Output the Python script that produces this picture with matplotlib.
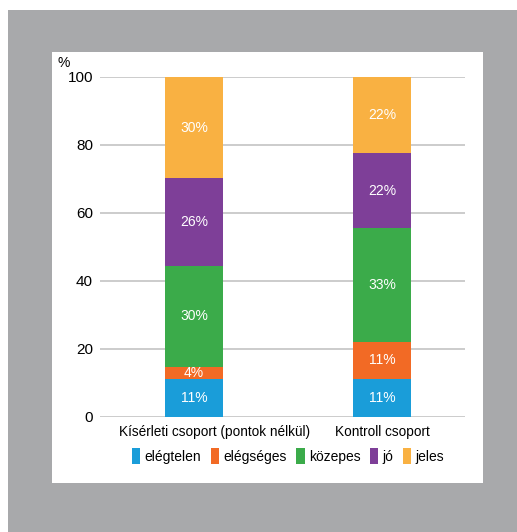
import numpy as np
import matplotlib.pyplot as plt
from matplotlib.patches import Rectangle
from matplotlib.transforms import ScaledTranslation

plt.rcParams['font.family'] = ['Liberation Sans', 'DejaVu Sans']

groups = ['Kísérleti csoport (pontok nélkül)', 'Kontroll csoport']
grades = ['elégtelen', 'elégséges', 'közepes', 'jó', 'jeles']
kiserleti = [11.1, 3.7, 29.6, 25.9, 29.6]
kontroll = [11.1, 11.1, 33.3, 22.2, 22.2]
colors = ['#1a9dd9', '#f26a25', '#3bab4a', '#7e3f98', '#f9b142']
yticks = [0, 20, 40, 60, 80, 100]

W, H = 517, 532
fig = plt.figure(figsize=(W / 100, H / 100), dpi=100)
fig.patch.set_facecolor('white')
# grey frame and white panel
fig.patches.append(Rectangle((8 / W, 0), 1 - 8 / W, 1 - 10 / H, transform=fig.transFigure,
                             facecolor='#a8a9ab', edgecolor='none', zorder=-2))
fig.patches.append(Rectangle((52 / W, 1 - 483 / H), 431 / W, 431 / H, transform=fig.transFigure,
                             facecolor='white', edgecolor='none', zorder=-1))

ax = fig.add_axes([100 / W, 1 - 417 / H, 365 / W, 340 / H])
ax.set_zorder(2)
ax.set_facecolor('none')

data = np.array([kiserleti, kontroll])
x = np.arange(len(groups))
bottom = np.zeros(len(groups))
handles = []
for i, g in enumerate(grades):
    vals = data[:, i]
    b = ax.bar(x, vals, width=0.31, bottom=bottom, color=colors[i], label=g, zorder=3)
    handles.append(b)
    for xi, v, bt in zip(x, vals, bottom):
        ax.text(xi, bt + v / 2, f'{v:.0f}%', ha='center', va='center', color='white',
                fontsize=10, zorder=4)
    bottom += vals

ax.set_xlim(-0.5, 1.44)
ax.set_ylim(0, 100)
ax.set_yticks(yticks)
ax.yaxis.grid(True, color='#c4c4c4', linewidth=1.2, zorder=0)
ax.tick_params(axis='y', length=0, pad=5, labelsize=11)
ax.tick_params(axis='x', length=0, pad=6, labelsize=9.8)
ax.set_xticks(x)
ax.set_xticklabels(groups)
# first category label sits a bit to the right of its bar in the original
lab0 = ax.get_xticklabels()[0]
lab0.set_transform(lab0.get_transform() + ScaledTranslation(0.2, 0, fig.dpi_scale_trans))
for s in ax.spines.values():
    s.set_visible(False)
ax.set_axisbelow(True)

fig.text(57 / W, 1 - 63 / H, '%', fontsize=10, va='center', ha='left')

leg = fig.legend(handles, grades, loc='center', bbox_to_anchor=(288 / W, 1 - 456 / H), ncol=5,
                 frameon=False, fontsize=10, handlelength=0.6, handleheight=1.3,
                 handletextpad=0.3, columnspacing=0.7, borderaxespad=0)
leg.set_zorder(3)

fig.savefig('out.png', dpi=100)
